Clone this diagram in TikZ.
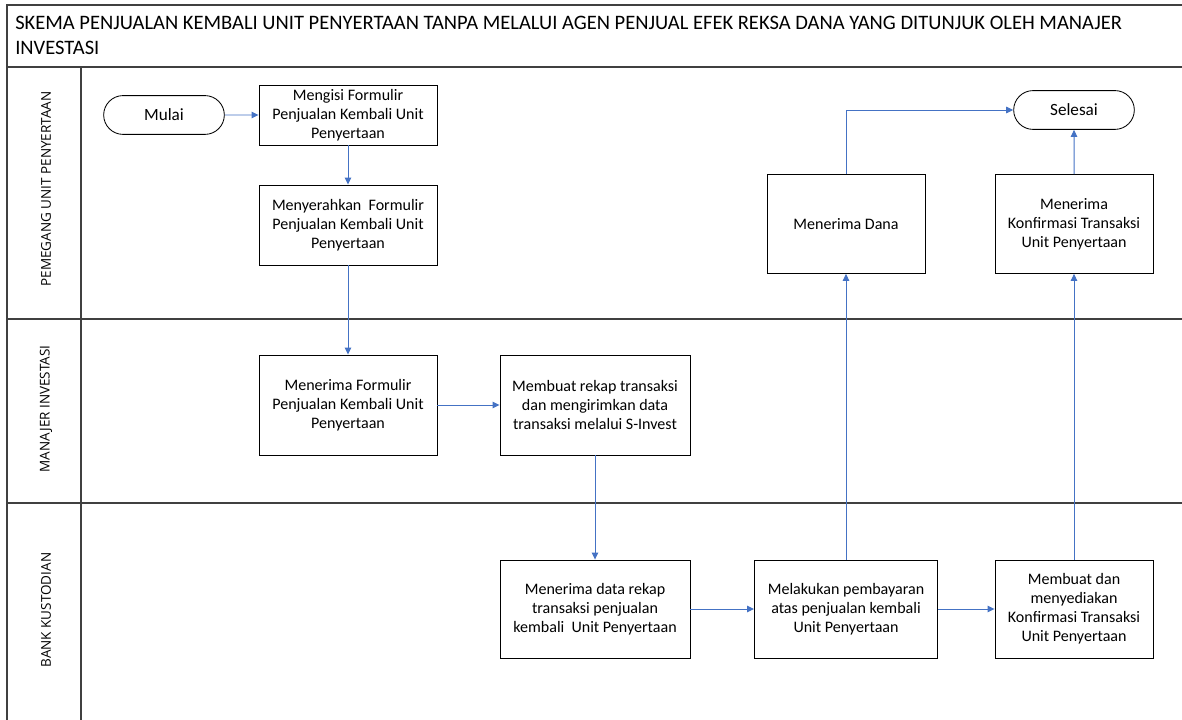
\documentclass[tikz,border=0pt]{standalone}
\usepackage{fontspec}
\setmainfont{Carlito}
\newfontfamily\lanefont{Open Sans}
\usetikzlibrary{arrows.meta,shapes.misc}
\definecolor{flowblue}{HTML}{4472C4}
\definecolor{framegray}{HTML}{404040}

\begin{document}
\begin{tikzpicture}[
    x=0.025cm, y=-0.025cm,
    box/.style={rectangle, draw=black, line width=0.6pt, align=center, inner sep=2pt, fill=white,
        font=\fontsize{11.4pt}{13.6pt}\selectfont},
    terminal/.style={rounded rectangle, draw=black, line width=0.6pt, minimum width=3.25cm, minimum height=0.97cm,
        font=\fontsize{12.2pt}{14pt}\selectfont},
    lane/.style={rotate=90, font=\lanefont\fontsize{9.6pt}{10pt}\selectfont, text=black},
    frame/.style={draw=framegray, line width=1.3pt},
    arrow/.style={-{Triangle[length=5pt,width=4.6pt]}, draw=flowblue, line width=0.7pt}
]
\useasboundingbox (0,0) rectangle (1182,720);

% Swimlane frame
\draw[frame] (7,720) -- (7,5) -- (1182,5);
\draw[frame] (7,67) -- (1182,67);
\draw[frame] (7,319) -- (1182,319);
\draw[frame] (7,503) -- (1182,503);
\draw[frame] (81,67) -- (81,720);

% Title
\node[anchor=north west, align=left, inner sep=0pt, font=\fontsize{14.6pt}{17.8pt}\selectfont] (title) at (15,16)
    {SKEMA PENJUALAN KEMBALI UNIT PENYERTAAN TANPA MELALUI AGEN PENJUAL EFEK REKSA DANA YANG DITUNJUK OLEH MANAJER\\INVESTASI};

% Lane labels
\node[lane] (lanepemegang) at (46,189) {PEMEGANG UNIT PENYERTAAN};
\node[lane] (lanemanajer) at (46,409) {MANAJER INVESTASI};
\node[lane] (lanebank) at (46,610) {BANK KUSTODIAN};

% Pemegang Unit Penyertaan
\node[terminal] (mulai) at (164,115) {Mulai};
\node[box, minimum width=4.45cm, minimum height=1.5cm] (mengisi) at (348,115) {Mengisi Formulir\\Penjualan Kembali Unit\\Penyertaan};
\node[box, minimum width=4.45cm, minimum height=2.0cm] (menyerahkan) at (348,225) {Menyerahkan~ Formulir\\Penjualan Kembali Unit\\Penyertaan};
\node[box, minimum width=3.95cm, minimum height=2.47cm] (dana) at (846,224) {Menerima Dana};
\node[box, minimum width=3.95cm, minimum height=2.47cm] (konfirmasi) at (1074,224) {Menerima\\Konfirmasi Transaksi\\Unit Penyertaan};
\node[terminal] (selesai) at (1074,110) {Selesai};

% Manajer Investasi
\node[box, minimum width=4.45cm, minimum height=2.5cm] (terimaform) at (348,405) {Menerima Formulir\\Penjualan Kembali Unit\\Penyertaan};
\node[box, minimum width=4.75cm, minimum height=2.5cm] (rekap) at (595,405) {Membuat rekap transaksi\\dan mengirimkan data\\transaksi melalui S-Invest};

% Bank Kustodian
\node[box, minimum width=4.75cm, minimum height=2.45cm] (terimadata) at (595,609) {Menerima data rekap\\transaksi penjualan\\kembali~ Unit Penyertaan};
\node[box, minimum width=4.575cm, minimum height=2.45cm] (bayar) at (846,609) {Melakukan pembayaran\\atas penjualan kembali\\Unit Penyertaan};
\node[box, minimum width=3.95cm, minimum height=2.45cm] (sediakan) at (1074,609) {Membuat dan\\menyediakan\\Konfirmasi Transaksi\\Unit Penyertaan};

% Flow
\draw[arrow] (mulai) -- (mengisi);
\draw[arrow] (mengisi) -- (menyerahkan);
\draw[arrow] (menyerahkan) -- (terimaform);
\draw[arrow] (terimaform) -- (rekap);
\draw[arrow] (rekap) -- (terimadata);
\draw[arrow] (terimadata) -- (bayar);
\draw[arrow] (bayar) -- (sediakan);
\draw[arrow] (bayar) -- (dana);
\draw[arrow] (sediakan) -- (konfirmasi);
\draw[arrow] (konfirmasi) -- (selesai);
\draw[arrow] (dana.north) |- (selesai.west);

\end{tikzpicture}
\end{document}
